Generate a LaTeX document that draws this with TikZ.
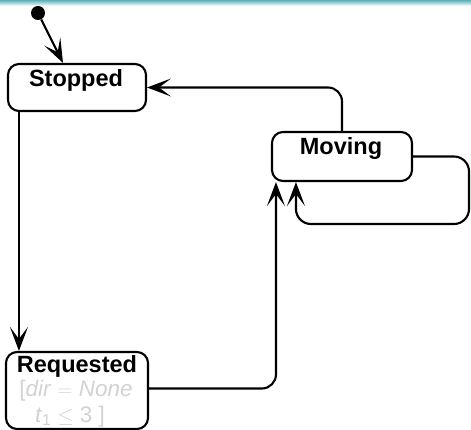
\documentclass[tikz,border=0pt]{standalone}
\usepackage{fontspec}
\setmainfont{Liberation Sans}
\usetikzlibrary{arrows.meta}
\definecolor{bandtop}{RGB}{95,175,185}
\definecolor{guardgray}{RGB}{210,210,210}
\tikzset{
  statebox/.style={draw, line width=2.1pt, rounded corners=11pt, inner sep=0pt},
  statename/.style={font=\fontsize{23.5}{26}\selectfont\bfseries, anchor=base, inner sep=0pt},
  guard/.style={font=\fontsize{22.5}{25}\selectfont, text=guardgray, anchor=base, inner sep=0pt},
  trans/.style={line width=2.1pt, -{Stealth[length=24pt, width=18pt, inset=12pt]}},
}
\begin{document}
\begin{tikzpicture}[x=1pt, y=-1pt]
  \useasboundingbox (0,0) rectangle (471,430);
  % header strip
  \shade[top color=bandtop, bottom color=white] (0,0) rectangle (471,6);

  % states
  \node[statebox, minimum width=138pt, minimum height=47pt] (stopped) at (77,87.5) {};
  \node[statename] (stoppedname) at (76,86.5) {Stopped};

  \node[statebox, minimum width=140pt, minimum height=49pt] (moving) at (342,156.5) {};
  \node[statename] (movingname) at (341,154.5) {Moving};

  \node[statebox, minimum width=142pt, minimum height=77pt] (requested) at (77,390.5) {};
  \node[statename] (requestedname) at (77,372.5) {Requested};
  \node[guard] (guardone) at (76,396.5) {[\textit{dir} $=$ \textit{None}};
  \node[guard] (guardtwo) at (70,422) {\textit{t}\textsubscript{1} $\leq$ 3 ]};

  % initial pseudostate
  \node[circle, fill=black, minimum size=14pt, inner sep=0pt] (init) at (38,13) {};

  % transitions
  \draw[trans] (init) -- ([xshift=-14pt]stopped.north);
  \draw[trans] ([xshift=12pt]stopped.south west) -- ([xshift=14pt]requested.north west);
  \draw[trans, rounded corners=14pt] ([yshift=2pt]requested.east) -| ([xshift=5pt]moving.south west);
  \draw[trans, rounded corners=14pt] (moving.north) |- (stopped.east);
  \coordinate (loopcorner) at (469,224);
  \draw[trans, rounded corners=15pt] (moving.east) -| (loopcorner) -| ([xshift=25pt]moving.south west);
\end{tikzpicture}
\end{document}
